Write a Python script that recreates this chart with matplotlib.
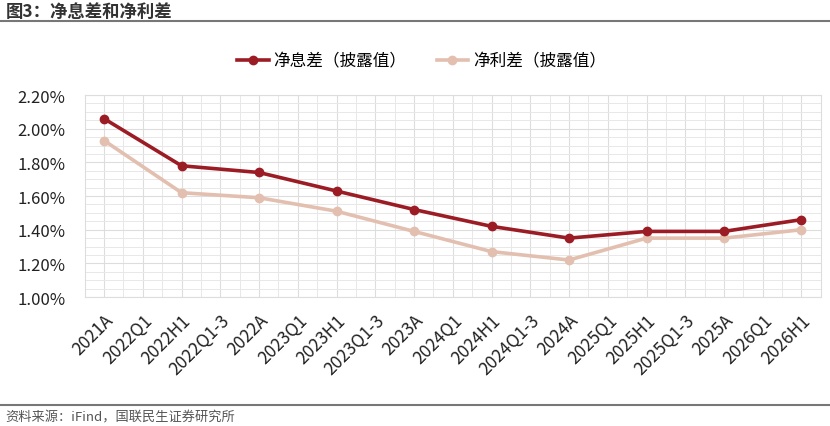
import numpy as np
import matplotlib.pyplot as plt
from matplotlib.lines import Line2D
from matplotlib.ticker import MultipleLocator, FuncFormatter

plt.rcParams['font.family'] = ['Noto Sans CJK SC', 'DejaVu Sans']

categories = ['2021A', '2022Q1', '2022H1', '2022Q1-3', '2022A', '2023Q1', '2023H1',
              '2023Q1-3', '2023A', '2024Q1', '2024H1', '2024Q1-3', '2024A', '2025Q1',
              '2025H1', '2025Q1-3', '2025A', '2026Q1', '2026H1']
point_labels = ['2021A', '2022H1', '2022A', '2023H1', '2023A', '2024H1', '2024A',
                '2025H1', '2025A', '2026H1']
nim = [2.06, 1.78, 1.74, 1.63, 1.52, 1.42, 1.35, 1.39, 1.39, 1.46]
spread = [1.93, 1.62, 1.59, 1.51, 1.39, 1.27, 1.22, 1.35, 1.35, 1.40]

dark = '#9B1C24'
light = '#E3BFB0'

fig = plt.figure(figsize=(8.3, 4.27), dpi=100)
ax = fig.add_axes([0.102, 0.302, 0.887, 0.473])

xpos = [categories.index(c) for c in point_labels]
ax.plot(xpos, spread, color=light, lw=2.6, marker='o', ms=6, zorder=3)
ax.plot(xpos, nim, color=dark, lw=2.6, marker='o', ms=6, zorder=4)

ax.set_xlim(-0.5, len(categories) - 0.5)
ax.set_ylim(1.0, 2.2)
ax.yaxis.set_major_locator(MultipleLocator(0.2))
ax.yaxis.set_minor_locator(MultipleLocator(0.05))
ax.yaxis.set_major_formatter(FuncFormatter(lambda v, p: f'{v:.2f}%'))
ax.set_xticks(range(len(categories)))
ax.set_xticks(np.arange(-0.5, len(categories), 1.0), minor=True)
ax.set_xticklabels(categories, rotation=45, ha='right', rotation_mode='anchor',
                   fontsize=12.5, color='#222222')
for lab in ax.get_xticklabels():
    lab.set_x(lab.get_position()[0] + 0.1)
ax.tick_params(axis='y', labelsize=12, colors='#222222', length=0, pad=14)
ax.tick_params(axis='x', length=0, pad=10)
ax.tick_params(which='minor', length=0)
ax.grid(which='major', color='#DDDDDD', lw=0.8)
ax.grid(which='minor', color='#E8E8E8', lw=0.7)
ax.set_axisbelow(True)
for s in ax.spines.values():
    s.set_color('#DDDDDD')
    s.set_linewidth(0.8)

handles = [Line2D([], [], color=dark, lw=2.6, marker='o', ms=6),
           Line2D([], [], color=light, lw=2.6, marker='o', ms=6)]
fig.legend(handles, ['净息差（披露值）', '净利差（披露值）'], loc='center',
           bbox_to_anchor=(0.508, 0.855), ncol=2, frameon=False, fontsize=12,
           handlelength=1.9, columnspacing=1.8, handletextpad=0.3)

fig.text(0.007, 0.972, '图3：净息差和净利差', fontsize=12.5, fontweight='bold',
         color='#333333', va='center')
fig.add_artist(Line2D([0, 1], [0.948, 0.948], color='#777777', lw=1.5))
fig.add_artist(Line2D([0, 1], [0.049, 0.049], color='#777777', lw=1.5))
fig.text(0.007, 0.022, '资料来源：iFind，国联民生证券研究所', fontsize=9.5,
         color='#555555', va='center')

fig.savefig('out.png', dpi=100)
